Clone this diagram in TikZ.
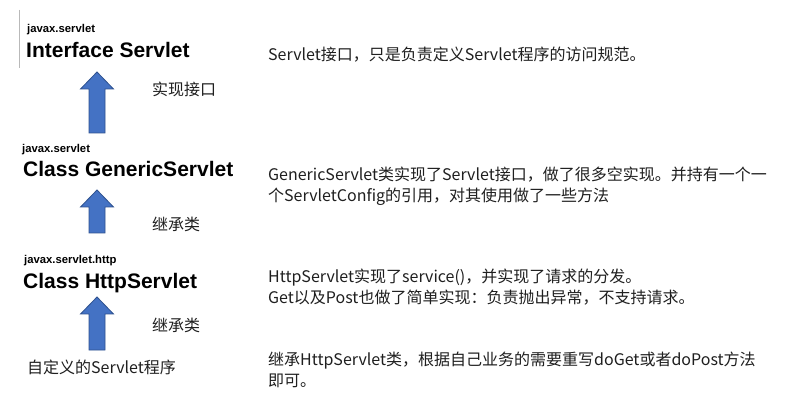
\documentclass[tikz,border=0pt]{standalone}
\usepackage{fontspec}
\setmainfont{Liberation Sans}
\newfontfamily\cjk{Noto Sans CJK SC}
\usepackage{xcolor}
\usepackage{tikz}
\usetikzlibrary{positioning,calc}

\definecolor{pfeilblau}{HTML}{4472C4}
\definecolor{pfeilrand}{HTML}{2F528F}

\begin{document}
\begin{tikzpicture}[x=1pt, y=-1pt,
      paket/.style={font=\fontsize{11.3}{13}\selectfont\bfseries, anchor=base west, inner sep=0pt},
      klasse/.style={font=\fontsize{21}{25}\selectfont\bfseries, anchor=base west, inner sep=0pt},
      notiz/.style={font=\cjk\fontsize{16}{21}\selectfont, anchor=base west, inner sep=0pt, text=black!88},
      erklaerung/.style={notiz, align=left},
      blockpfeil/.style={fill=pfeilblau, draw=pfeilrand, line width=0.8pt}]
    \fill[white] (0,0) rectangle (795,403);
    \useasboundingbox (0,0) rectangle (795,403);
    % linke Spalte
    \draw[gray!55, line width=1pt] (19,10) -- (19,68);
    \node[paket] (p1) at (27,33) {javax.servlet};
    \node[klasse] (k1) at (26,58) {Interface Servlet};
    \node[paket] (p2) at (22,153) {javax.servlet};
    \node[klasse] (k2) at (23,177) {Class GenericServlet};
    \node[paket] (p3) at (24,264) {javax.servlet.http};
    \node[klasse] (k3) at (23,289) {Class HttpServlet};
    \node[notiz] (eigen) at (27,373) {自定义的Servlet程序};
    \node[notiz] (r1) at (152,96) {实现接口};
    \node[notiz] (r2) at (152,231) {继承类};
    \node[notiz] (r3) at (152,331) {继承类};
    % Pfeile
    \coordinate (spitze1) at (97,72);  \coordinate (ende1) at (97,133);
    \coordinate (spitze2) at (97,190); \coordinate (ende2) at (97,233);
    \coordinate (spitze3) at (97,297); \coordinate (ende3) at (97,350);
    \foreach \i in {1,2,3}
      \draw[blockpfeil] ($(ende\i)+(-8,0)$) -- ($(spitze\i)+(-8,17)$) -- ($(spitze\i)+(-16.5,17)$)
        -- (spitze\i) -- ($(spitze\i)+(16.5,17)$) -- ($(spitze\i)+(8,17)$) -- ($(ende\i)+(8,0)$) -- cycle;
    % rechte Spalte (Basis = letzte Zeile)
    \node[erklaerung] (t1) at (268,61) {Servlet接口，只是负责定义Servlet程序的访问规范。};
    \node[erklaerung] (t2) at (268,202) {GenericServlet类实现了Servlet接口，做了很多空实现。并持有一个一\\个ServletConfig的引用，对其使用做了一些方法};
    \node[erklaerung] (t3) at (268,304) {HttpServlet实现了service()，并实现了请求的分发。\\Get以及Post也做了简单实现：负责抛出异常，不支持请求。};
    \node[erklaerung] (t4) at (268,386) {继承HttpServlet类，根据自己业务的需要重写doGet或者doPost方法\\即可。};
\end{tikzpicture}
\end{document}
